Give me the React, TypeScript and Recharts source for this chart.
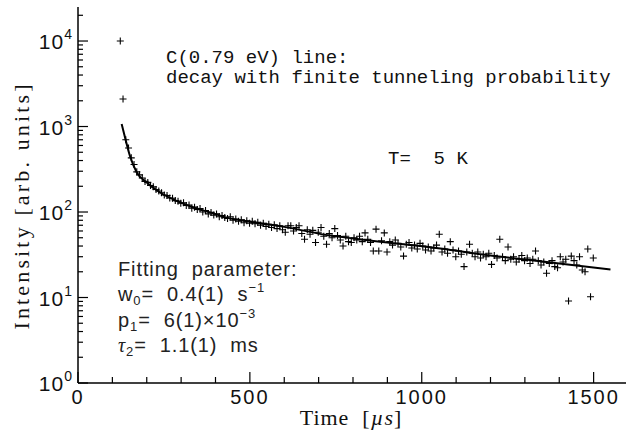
import React from 'react';
import { ComposedChart, Scatter, Line, XAxis, YAxis } from 'recharts';

const scatterTimes = [
  123, 131, 139, 147, 155, 163, 171, 179, 187, 195, 203, 211, 219, 227, 235, 243, 251, 259, 267, 275,
  283, 291, 299, 307, 315, 323, 331, 339, 347, 355, 363, 371, 379, 387, 395, 403, 411, 419, 427, 435,
  443, 451, 459, 467, 475, 483, 491, 499, 507, 515, 523, 531, 539, 547, 555, 563, 571, 579, 587, 595,
  603, 611, 619, 627, 635, 643, 651, 659, 667, 675, 683, 691, 699, 707, 715, 723, 731, 739, 747, 755,
  763, 771, 779, 787, 795, 803, 811, 819, 827, 835, 843, 851, 859, 867, 875, 883, 891, 899, 907, 915,
  923, 931, 939, 947, 955, 963, 971, 979, 987, 995, 1003, 1011, 1019, 1027, 1035, 1043, 1051, 1059, 1067, 1075,
  1083, 1091, 1099, 1107, 1115, 1123, 1131, 1139, 1147, 1155, 1163, 1171, 1179, 1187, 1195, 1203, 1211, 1219, 1227, 1235,
  1243, 1251, 1259, 1267, 1275, 1283, 1291, 1299, 1307, 1315, 1323, 1331, 1339, 1347, 1355, 1363, 1371, 1379, 1387, 1395,
  1403, 1411, 1419, 1427, 1435, 1443, 1451, 1459, 1467, 1475, 1483, 1491, 1499,
];
const scatterCounts = [
  10000, 2100, 700, 560, 430, 360, 295, 272, 250, 228, 222, 204, 197, 183, 176, 168, 158, 156, 146, 145,
  136, 134, 127, 128, 119, 121, 111, 114, 107, 110, 100, 104, 95, 99, 92, 95, 88, 91, 86, 84,
  88, 80, 83, 78, 81, 75, 79, 74, 78, 73, 76, 70, 74, 68, 72, 66, 71, 64, 69, 62,
  58, 69, 69, 60, 66, 69, 56, 48, 62, 55, 61, 44, 58, 66, 52, 42, 56, 50, 64, 53,
  47, 40, 52, 45, 44, 50, 47, 52, 45, 57, 48, 44, 35, 63, 35, 46, 57, 34, 45, 41,
  47, 43, 39, 30.5, 42, 44, 38, 41, 37, 43, 40, 36, 39, 35, 38, 41, 55, 34, 37, 33,
  45, 36, 30, 35, 32, 23, 34, 42, 33, 30, 34, 29, 32, 30, 33, 24.4, 31, 29, 48, 30,
  27, 39, 28, 30, 26, 28, 31, 27, 29, 25, 28, 35, 27, 24, 26, 19.2, 25, 27, 23, 22.3,
  30, 26, 28, 9.1, 30.5, 27, 24, 30, 21, 20, 37, 10.2, 29,
];

// fitted curve
const fitTimes = [127, 137, 151, 171, 200, 239, 287, 336, 384, 433, 500, 600, 734, 800, 900, 1054, 1200, 1296, 1400, 1549];
const fitCounts = [1070, 740, 455, 290, 222, 169, 135, 113, 99, 86, 77, 67, 53, 49, 44, 37.5, 31, 28, 25, 21.3];

const xTicks = [0, 100, 200, 300, 400, 500, 600, 700, 800, 900, 1000, 1100, 1200, 1300, 1400, 1500, 1600];
const xMajor = [0, 500, 1000, 1500];
const yTicks = [
  1, 2, 3, 4, 5, 6, 7, 8, 9,
  10, 20, 30, 40, 50, 60, 70, 80, 90,
  100, 200, 300, 400, 500, 600, 700, 800, 900,
  1000, 2000, 3000, 4000, 5000, 6000, 7000, 8000, 9000,
  10000, 20000,
];
const yMajor = [1, 10, 100, 1000, 10000];

const points = scatterTimes.map((t, i) => ({ t, v: scatterCounts[i] }));
const fit = fitTimes.map((t, i) => ({ t, v: fitCounts[i] }));

const SANS = 'Liberation Sans, Arial, sans-serif';
const SERIF = 'Liberation Serif, Times New Roman, serif';
const MONO = 'Liberation Mono, Courier New, monospace';
const SP = '\u00a0';

const Cross = (p: any) => (
  <path d={`M${p.cx - 3.5},${p.cy}h7M${p.cx},${p.cy - 3.5}v7`} stroke="#000" strokeWidth={1.1} fill="none" />
);

const BottomTick = (p: any) => {
  const v = p.payload.value;
  const major = xMajor.includes(v);
  return (
    <g>
      <line x1={p.x} y1={p.y} x2={p.x} y2={p.y - (major ? 11 : 6)} stroke="#000" strokeWidth={1.2} />
      {major && (
        <text x={p.x} y={p.y + 21} textAnchor="middle" fontFamily={SANS} fontSize={20} letterSpacing={2} fill="#111">
          {v}
        </text>
      )}
    </g>
  );
};

const TopTick = (p: any) => {
  const major = xMajor.includes(p.payload.value);
  return <line x1={p.x} y1={p.y} x2={p.x} y2={p.y + (major ? 11 : 6)} stroke="#000" strokeWidth={1.2} />;
};

const LeftTick = (p: any) => {
  const v = p.payload.value;
  const major = yMajor.includes(v);
  return (
    <g>
      <line x1={p.x} y1={p.y} x2={p.x + (major ? 10 : 5)} y2={p.y} stroke="#000" strokeWidth={1.2} />
      {major && (
        <text x={p.x - 6} y={p.y + 8} textAnchor="end" fontFamily={SANS} fill="#111">
          <tspan fontSize={21} letterSpacing={1}>10</tspan>
          <tspan fontSize={14} dy={-10}>{yMajor.indexOf(v)}</tspan>
        </text>
      )}
    </g>
  );
};

const RightTick = (p: any) => {
  const major = yMajor.includes(p.payload.value);
  return <line x1={p.x} y1={p.y} x2={p.x - (major ? 10 : 5)} y2={p.y} stroke="#000" strokeWidth={1.2} />;
};

export default function App() {
  return (
    <div style={{ position: 'relative', width: 626, height: 433, overflow: 'hidden', background: '#fff' }}>
      <style>{'body{margin:0}'}</style>
      <ComposedChart width={628} height={433} margin={{ top: 7, right: 0, bottom: 0, left: 0 }}>
        <XAxis
          dataKey="t"
          type="number"
          domain={[0, 1600]}
          ticks={xTicks}
          interval={0}
          tick={<BottomTick />}
          tickSize={0}
          tickMargin={0}
          height={50}
          allowDataOverflow
          axisLine={{ stroke: '#000', strokeWidth: 1.5 }}
        />
        <XAxis
          xAxisId="top"
          orientation="top"
          type="number"
          domain={[0, 1600]}
          ticks={xTicks}
          interval={0}
          tick={<TopTick />}
          tickSize={0}
          tickMargin={0}
          height={0}
          allowDataOverflow
          axisLine={{ stroke: '#000', strokeWidth: 1.5 }}
        />
        <YAxis
          dataKey="v"
          type="number"
          scale="log"
          domain={[1, 25000]}
          ticks={yTicks}
          interval={0}
          tick={<LeftTick />}
          tickSize={0}
          tickMargin={0}
          width={78}
          allowDataOverflow
          axisLine={{ stroke: '#000', strokeWidth: 1.5 }}
        />
        <YAxis
          yAxisId="right"
          orientation="right"
          type="number"
          scale="log"
          domain={[1, 25000]}
          ticks={yTicks}
          interval={0}
          tick={<RightTick />}
          tickSize={0}
          tickMargin={0}
          width={0}
          allowDataOverflow
          axisLine={{ stroke: '#000', strokeWidth: 1.5 }}
        />
        <Scatter data={points} dataKey="v" shape={<Cross />} isAnimationActive={false} />
        <Line data={fit} dataKey="v" type="monotone" stroke="#000" strokeWidth={2} dot={false} isAnimationActive={false} />
      </ComposedChart>

      <svg width={626} height={433} style={{ position: 'absolute', left: 0, top: 0, pointerEvents: 'none' }}>
        <text x={166} y={63} fontFamily={MONO} fontSize={19} fill="#111">{`C(0.79${SP}eV)${SP}line:`}</text>
        <text x={166} y={83} fontFamily={MONO} fontSize={19} fill="#111">
          decay with finite tunneling probability
        </text>
        <text x={388} y={164} fontFamily={MONO} fontSize={19} fill="#111">{`T=${SP}${SP}5${SP}K`}</text>

        <g fontFamily={SANS} fontSize={20} fill="#222">
          <text x={118} y={276} letterSpacing={0.9}>{`Fitting${SP}${SP}parameter:`}</text>
          <text x={118} y={301} letterSpacing={0.9}>
            w<tspan fontSize={13} dy={4}>0</tspan>
            <tspan dy={-4}>{`=${SP}${SP}0.4(1)${SP}${SP}s`}</tspan>
            <tspan fontSize={13} dy={-9}>−1</tspan>
          </text>
          <text x={118} y={327} letterSpacing={0.9}>
            p<tspan fontSize={13} dy={4}>1</tspan>
            <tspan dy={-4}>{`=${SP}${SP}6(1)×10`}</tspan>
            <tspan fontSize={13} dy={-9}>−3</tspan>
          </text>
          <text x={118} y={352} letterSpacing={0.9}>
            <tspan fontFamily={SERIF} fontStyle="italic">τ</tspan>
            <tspan fontSize={13} dy={4}>2</tspan>
            <tspan dy={-4}>{`=${SP}${SP}1.1(1)${SP}${SP}ms`}</tspan>
          </text>
        </g>

        <text
          x={0}
          y={0}
          transform="translate(29 207) rotate(-90)"
          textAnchor="middle"
          fontFamily={SERIF}
          fontSize={22}
          fill="#111"
          textLength={245}
          lengthAdjust="spacing"
        >
          Intensity [arb. units]
        </text>
        <text x={351} y={425} textAnchor="middle" fontFamily={SERIF} fontSize={22} letterSpacing={1} fill="#111">
          {`Time${SP}${SP}[`}<tspan fontStyle="italic">µs</tspan>]
        </text>
      </svg>
    </div>
  );
}
